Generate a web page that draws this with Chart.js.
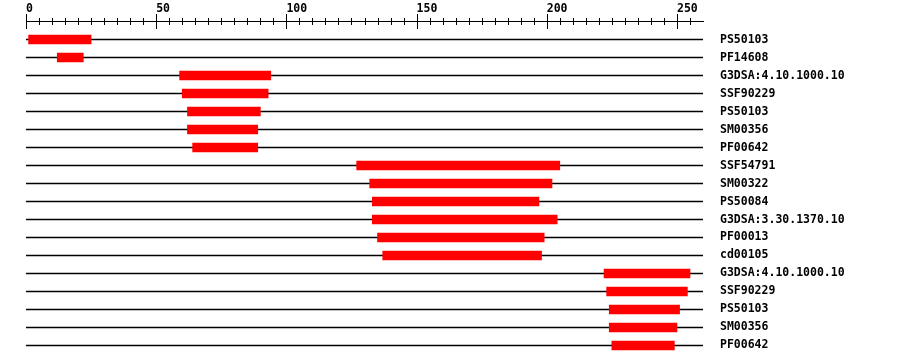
<!DOCTYPE html>
<html>
<head>
<meta charset="utf-8">
<script src="https://cdn.jsdelivr.net/npm/chart.js@4/dist/chart.umd.min.js"></script>
<style>
  body { margin: 0; background: #fff; }
</style>
</head>
<body>
<canvas id="myChart" width="900" height="364"></canvas>
<script>
let rowNames = ['PS50103', 'PF14608', 'G3DSA:4.10.1000.10', 'SSF90229', 'PS50103', 'SM00356', 'PF00642',
  'SSF54791', 'SM00322', 'PS50084', 'G3DSA:3.30.1370.10', 'PF00013', 'cd00105',
  'G3DSA:4.10.1000.10', 'SSF90229', 'PS50103', 'SM00356', 'PF00642'];
let starts = [1, 12, 59, 60, 62, 62, 64, 127, 132, 133, 133, 135, 137, 222, 223, 224, 224, 225];
let ends = [25, 22, 94, 93, 90, 89, 89, 205, 202, 197, 204, 199, 198, 255, 254, 251, 250, 249];
let seqLength = 260;

let font = { family: 'DejaVu Sans Mono', size: 11.5, weight: 'bold' };

// ruler ticks: long ones every 50, short ones every 5
let rulerTicks = {
  id: 'rulerTicks',
  afterDraw(chart) {
    let x = chart.scales.x;
    let y0 = chart.chartArea.top;
    let ctx = chart.ctx;
    ctx.save();
    ctx.strokeStyle = '#000';
    ctx.lineWidth = 1;
    ctx.beginPath();
    for (let v = 0; v < seqLength; v += 5) {
      let px = Math.round(x.getPixelForValue(v)) + 0.5;
      let h = v % 50 === 0 ? 7 : 3;
      ctx.moveTo(px, y0 - h);
      ctx.lineTo(px, y0 + h + 1);
    }
    ctx.stroke();
    ctx.restore();
  }
};

let settings = {
  type: 'bar',
  data: {
    datasets: [
      {
        data: rowNames.map((n, i) => ({ x: [starts[i], ends[i]], y: i })),
        backgroundColor: '#ff0000',
        borderWidth: 0,
        barThickness: 9,
        grouped: false,
        order: 1
      },
      {
        data: rowNames.map((n, i) => ({ x: [0, seqLength], y: i })),
        backgroundColor: '#000000',
        borderWidth: 0,
        barThickness: 1,
        grouped: false,
        order: 2
      }
    ]
  },
  options: {
    indexAxis: 'y',
    responsive: false,
    animation: false,
    layout: { autoPadding: false, padding: { left: 26, top: 0, right: 0, bottom: 9.5 } },
    plugins: {
      legend: { display: false },
      tooltip: { enabled: false }
    },
    scales: {
      x: {
        type: 'linear',
        position: 'top',
        min: 0,
        max: seqLength,
        grid: { display: false, drawTicks: false },
        border: { display: true, color: '#000', width: 1 },
        ticks: {
          stepSize: 50,
          includeBounds: false,
          align: 'start',
          padding: 5,
          color: '#000',
          font: font
        },
        afterFit(scale) { scale.height = 21; }
      },
      y: {
        type: 'linear',
        position: 'right',
        reverse: true,
        offset: false,
        bounds: 'data',
        min: -1.03,
        max: rowNames.length - 0.5,
        grid: { display: false, drawTicks: false, offset: false },
        border: { display: false },
        ticks: {
          padding: 17,
          color: '#000',
          font: font,
          callback: v => rowNames[v]
        },
        afterBuildTicks(scale) {
          scale.ticks = rowNames.map((n, i) => ({ value: i }));
        },
        afterFit(scale) {
          scale.width = 197;
          scale.paddingTop = 0;
          scale.paddingBottom = 0;
        }
      }
    }
  },
  plugins: [rulerTicks]
};

window.chart = new Chart('myChart', settings);
</script>
</body>
</html>
